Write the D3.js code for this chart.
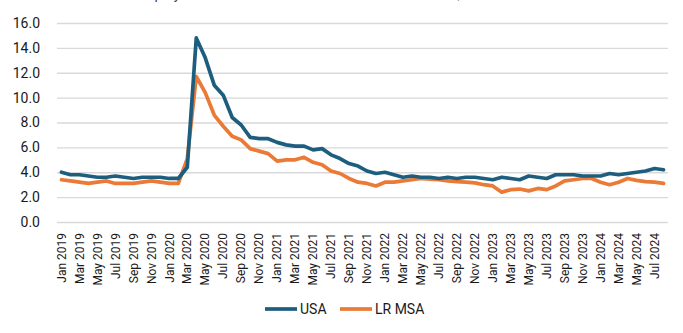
<!DOCTYPE html>
<html>
<head>
<meta charset="utf-8">
<script src="https://cdn.jsdelivr.net/npm/d3@7"></script>
<style>
  html, body { margin: 0; padding: 0; background: #fff; }
  svg { display: block; font-family: Roboto, "Liberation Sans", sans-serif; }
</style>
</head>
<body>
<svg width="683" height="333"></svg>
<script>
// monthly categories, Jan 2019 through Aug 2024
const months = d3.timeMonth.range(new Date(2019, 0, 1), new Date(2024, 8, 1));

// unemployment rate, %
const usa = [
  4.0, 3.8, 3.8, 3.7, 3.6, 3.6, 3.7, 3.6, 3.5, 3.6, 3.6, 3.6,
  3.5, 3.5, 4.4, 14.8, 13.2, 11.0, 10.2, 8.4, 7.8, 6.8, 6.7, 6.7,
  6.4, 6.2, 6.1, 6.1, 5.8, 5.9, 5.4, 5.1, 4.7, 4.5, 4.1, 3.9,
  4.0, 3.8, 3.6, 3.7, 3.6, 3.6, 3.5, 3.6, 3.5, 3.6, 3.6, 3.5,
  3.4, 3.6, 3.5, 3.4, 3.7, 3.6, 3.5, 3.8, 3.8, 3.8, 3.7, 3.7,
  3.7, 3.9, 3.8, 3.9, 4.0, 4.1, 4.3, 4.2
];
const lrMsa = [
  3.4, 3.3, 3.2, 3.1, 3.2, 3.3, 3.1, 3.1, 3.1, 3.2, 3.3, 3.2,
  3.1, 3.1, 5.1, 11.7, 10.4, 8.6, 7.7, 6.9, 6.6, 5.9, 5.7, 5.5,
  4.9, 5.0, 5.0, 5.2, 4.8, 4.6, 4.1, 3.9, 3.5, 3.2, 3.1, 2.9,
  3.2, 3.2, 3.3, 3.4, 3.5, 3.45, 3.4, 3.3, 3.25, 3.2, 3.15, 3.0,
  2.9, 2.4, 2.6, 2.65, 2.5, 2.7, 2.6, 2.9, 3.3, 3.4, 3.5, 3.5,
  3.2, 3.0, 3.2, 3.5, 3.35, 3.25, 3.2, 3.1
];
const yTicks = [0, 2, 4, 6, 8, 10, 12, 14, 16];

const series = [
  {name: "USA", values: usa, color: "#1d5e7e"},
  {name: "LR MSA", values: lrMsa, color: "#ea7a36"}
];

const svg = d3.select('svg'),
    width = +svg.attr('width'),
    height = +svg.attr('height');

const plotLeft = 57, plotRight = 668, plotTop = 23, plotBottom = 222;

const x = d3.scaleBand().domain(months).range([plotLeft, plotRight]);
const y = d3.scaleLinear().domain([0, 16]).range([plotBottom, plotTop]);
const cx = d => x(d) + x.bandwidth() / 2;

// heading sits above the top edge, only its descenders show
svg.append('text')
    .attr('x', 118)
    .attr('y', -1)
    .attr('font-size', 14)
    .attr('fill', '#444')
    .text('Unemployment Rate: Little Rock MSA vs. United States, 2019–2024');

// y axis with gridlines
const yAxis = svg.append('g')
    .attr('transform', `translate(${plotLeft},0)`)
    .call(d3.axisLeft(y)
        .tickValues(yTicks)
        .tickSize(-(plotRight - plotLeft))
        .tickPadding(17)
        .tickFormat(d3.format('.1f')));
yAxis.select('.domain').remove();
yAxis.selectAll('line').attr('stroke', '#d9d9d9').attr('stroke-width', 1.4);
yAxis.selectAll('text')
    .attr('font-size', 14)
    .attr('font-family', 'Roboto, sans-serif')
    .attr('fill', '#1a1a1a');

// x axis, every other month
const xAxis = svg.append('g')
    .attr('transform', `translate(0,${plotBottom})`)
    .call(d3.axisBottom(x)
        .tickValues(months.filter((d, i) => i % 2 === 0))
        .tickSize(0)
        .tickFormat(d3.timeFormat('%b %Y')));
xAxis.select('.domain').remove();
xAxis.selectAll('text')
    .attr('transform', 'rotate(-90)')
    .attr('text-anchor', 'end')
    .attr('x', -11)
    .attr('y', 0)
    .attr('dy', '0.35em')
    .attr('font-size', 12)
    .attr('font-family', 'Roboto, sans-serif')
    .attr('fill', '#1a1a1a');

const line = d3.line()
    .x((d, i) => cx(months[i]))
    .y(d => y(d));

// draw LR MSA first so USA sits on top
svg.selectAll('.series')
    .data(series.slice().reverse())
    .enter()
    .append('path')
    .attr('class', 'series')
    .attr('d', d => line(d.values))
    .attr('fill', 'none')
    .attr('stroke', d => d.color)
    .attr('stroke-width', 3.7)
    .attr('stroke-linejoin', 'round')
    .attr('stroke-linecap', 'round');

// legend
const legend = svg.append('g').attr('transform', 'translate(265,309)');
const items = legend.selectAll('g')
    .data(series)
    .enter()
    .append('g')
    .attr('transform', (d, i) => `translate(${i * 75},0)`);
items.append('line')
    .attr('x1', 0).attr('x2', 32)
    .attr('stroke', d => d.color)
    .attr('stroke-width', 3.7);
items.append('text')
    .attr('x', 35)
    .attr('dy', '0.35em')
    .attr('font-size', 14)
    .attr('fill', '#1a1a1a')
    .text(d => d.name);
</script>
</body>
</html>
